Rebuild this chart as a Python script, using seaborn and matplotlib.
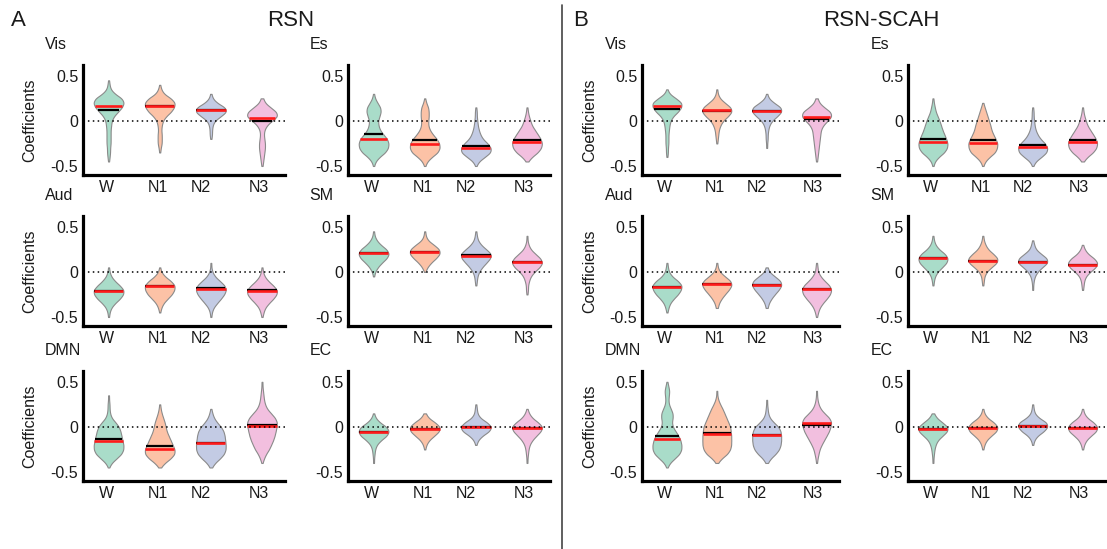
import numpy as np
import pandas as pd
import seaborn as sns
import matplotlib
matplotlib.use("Agg")
import matplotlib.pyplot as plt
from matplotlib.lines import Line2D

# ---------- data ----------
STAGES = ["W", "N1", "N2", "N3"]
NETWORKS = ["Vis", "Es", "Aud", "SM", "DMN", "EC"]

# coefficient levels (-0.5 ... 0.5) and, per stage, the violin width (px) at each level
LEVELS = [-0.5, -0.45, -0.4, -0.35, -0.3, -0.25, -0.2, -0.15, -0.1, -0.05, 0.0,
          0.05, 0.1, 0.15, 0.2, 0.25, 0.3, 0.35, 0.4, 0.45, 0.5]

RSN_VIS = [[0, 1, 2, 3, 3, 4, 4, 4, 4, 5, 6, 10, 18, 26, 30, 26, 12, 4, 2, 1, 0],
           [0, 0, 0, 1, 2, 4, 4, 4, 3, 4, 6, 12, 22, 28, 30, 22, 8, 3, 1, 0, 0],
           [0, 0, 0, 0, 0, 0, 1, 2, 2, 3, 6, 16, 26, 24, 10, 3, 1, 0, 0, 0, 0],
           [1, 2, 3, 4, 5, 5, 4, 3, 4, 8, 16, 26, 24, 14, 5, 2, 0, 0, 0, 0, 0]]
RSN_ES = [[1, 4, 12, 24, 30, 31, 28, 20, 13, 10, 9, 12, 15, 14, 8, 3, 1, 0, 0, 0, 0],
          [1, 5, 14, 26, 30, 29, 24, 16, 10, 7, 7, 8, 8, 7, 3, 1, 0, 0, 0, 0, 0],
          [1, 6, 18, 30, 31, 24, 14, 9, 6, 4, 3, 2, 2, 1, 0, 0, 0, 0, 0, 0, 0],
          [0, 2, 10, 22, 29, 31, 28, 22, 16, 10, 7, 4, 2, 1, 0, 0, 0, 0, 0, 0, 0]]
RSN_AUD = [[1, 2, 5, 12, 22, 29, 30, 22, 12, 5, 2, 1, 0, 0, 0, 0, 0, 0, 0, 0, 0],
           [0, 1, 3, 7, 15, 24, 29, 30, 22, 10, 3, 1, 0, 0, 0, 0, 0, 0, 0, 0, 0],
           [1, 2, 5, 12, 20, 27, 31, 28, 18, 8, 3, 1, 1, 0, 0, 0, 0, 0, 0, 0, 0],
           [1, 3, 6, 13, 22, 29, 30, 22, 12, 5, 2, 1, 0, 0, 0, 0, 0, 0, 0, 0, 0]]
RSN_SM = [[0, 0, 0, 0, 0, 0, 0, 0, 0, 1, 3, 8, 16, 26, 31, 26, 14, 6, 2, 1, 0],
          [0, 0, 0, 0, 0, 0, 0, 0, 0, 0, 1, 5, 12, 22, 30, 29, 18, 6, 2, 1, 0],
          [0, 0, 0, 0, 0, 0, 0, 1, 2, 3, 6, 12, 20, 28, 30, 20, 10, 4, 2, 1, 0],
          [0, 0, 0, 0, 0, 1, 2, 2, 4, 7, 14, 24, 30, 26, 16, 7, 3, 1, 1, 0, 0]]
RSN_DMN = [[0, 1, 6, 16, 26, 30, 30, 28, 26, 24, 21, 14, 6, 3, 2, 2, 1, 1, 0, 0, 0],
           [0, 2, 10, 22, 30, 30, 26, 22, 18, 14, 12, 10, 7, 4, 2, 1, 0, 0, 0, 0, 0],
           [0, 2, 8, 18, 26, 29, 29, 28, 27, 25, 20, 12, 6, 3, 1, 0, 0, 0, 0, 0, 0],
           [0, 0, 1, 4, 8, 14, 18, 22, 25, 27, 29, 30, 26, 18, 10, 6, 4, 3, 2, 1, 1]]
RSN_EC = [[0, 0, 1, 1, 2, 3, 6, 14, 26, 31, 26, 12, 4, 1, 0, 0, 0, 0, 0, 0, 0],
          [0, 0, 0, 0, 0, 1, 3, 8, 18, 28, 30, 20, 7, 2, 0, 0, 0, 0, 0, 0, 0],
          [0, 0, 0, 0, 0, 0, 1, 4, 12, 26, 31, 22, 8, 3, 2, 1, 0, 0, 0, 0, 0],
          [0, 0, 1, 1, 2, 3, 5, 10, 18, 27, 31, 22, 10, 4, 1, 0, 0, 0, 0, 0, 0]]

SCAH_VIS = [[0, 0, 1, 2, 2, 3, 3, 3, 4, 5, 7, 12, 22, 29, 30, 18, 5, 1, 0, 0, 0],
            [0, 0, 0, 0, 0, 1, 2, 3, 4, 7, 12, 22, 30, 28, 16, 6, 2, 1, 0, 0, 0],
            [0, 0, 0, 0, 1, 1, 2, 2, 3, 5, 10, 20, 29, 28, 14, 4, 1, 0, 0, 0, 0],
            [0, 1, 2, 3, 4, 5, 6, 7, 8, 12, 20, 28, 26, 14, 5, 2, 0, 0, 0, 0, 0]]
SCAH_ES = [[1, 4, 12, 24, 30, 31, 28, 24, 20, 17, 14, 10, 6, 4, 2, 1, 0, 0, 0, 0, 0],
           [1, 5, 14, 26, 30, 31, 27, 22, 18, 16, 13, 10, 7, 4, 1, 0, 0, 0, 0, 0, 0],
           [1, 6, 18, 29, 31, 26, 16, 10, 6, 4, 3, 2, 2, 1, 0, 0, 0, 0, 0, 0, 0],
           [0, 2, 10, 22, 29, 31, 28, 22, 16, 10, 7, 4, 2, 1, 0, 0, 0, 0, 0, 0, 0]]
SCAH_AUD = [[0, 1, 3, 6, 13, 22, 28, 30, 22, 10, 4, 2, 1, 0, 0, 0, 0, 0, 0, 0, 0],
            [0, 0, 2, 4, 9, 16, 24, 30, 28, 16, 6, 2, 1, 0, 0, 0, 0, 0, 0, 0, 0],
            [0, 0, 2, 4, 9, 16, 24, 30, 28, 16, 5, 2, 0, 0, 0, 0, 0, 0, 0, 0, 0],
            [1, 3, 6, 12, 20, 27, 30, 26, 16, 8, 3, 2, 1, 0, 0, 0, 0, 0, 0, 0, 0]]
SCAH_SM = [[0, 0, 0, 0, 0, 0, 0, 1, 2, 4, 9, 18, 27, 30, 24, 12, 5, 2, 1, 0, 0],
           [0, 0, 0, 0, 0, 0, 0, 1, 2, 3, 7, 16, 27, 29, 20, 10, 5, 2, 1, 0, 0],
           [0, 0, 0, 0, 0, 0, 1, 1, 2, 4, 9, 18, 29, 28, 16, 6, 3, 1, 0, 0, 0],
           [0, 0, 0, 0, 0, 0, 1, 2, 3, 6, 14, 25, 29, 22, 10, 4, 1, 0, 0, 0, 0]]
SCAH_DMN = [[0, 1, 6, 16, 26, 30, 30, 28, 24, 18, 12, 10, 12, 12, 8, 4, 3, 4, 5, 3, 1],
            [0, 0, 2, 10, 22, 28, 30, 30, 30, 29, 28, 24, 20, 16, 12, 7, 3, 1, 1, 0, 0],
            [0, 0, 2, 8, 18, 25, 28, 29, 29, 28, 24, 14, 6, 3, 2, 1, 1, 0, 0, 0, 0],
            [0, 0, 1, 2, 4, 6, 10, 15, 20, 25, 28, 30, 26, 16, 8, 4, 2, 1, 1, 0, 0]]
SCAH_EC = [[0, 0, 1, 1, 2, 3, 5, 9, 18, 28, 29, 18, 7, 2, 0, 0, 0, 0, 0, 0, 0],
           [0, 0, 0, 0, 0, 1, 3, 7, 16, 27, 30, 22, 9, 3, 1, 0, 0, 0, 0, 0, 0],
           [0, 0, 0, 0, 0, 0, 1, 3, 9, 22, 30, 28, 12, 4, 2, 1, 0, 0, 0, 0, 0],
           [0, 0, 0, 0, 0, 1, 3, 7, 16, 27, 30, 22, 9, 3, 1, 0, 0, 0, 0, 0, 0]]

# red line = median, black line = mean (rows follow NETWORKS)
RSN_MEDIAN = [[0.16, 0.17, 0.12, 0.035], [-0.20, -0.26, -0.30, -0.23],
              [-0.21, -0.16, -0.19, -0.21], [0.21, 0.225, 0.175, 0.107],
              [-0.16, -0.245, -0.18, 0.01], [-0.057, -0.02, -0.003, -0.01]]
RSN_MEAN = [[0.12, 0.16, 0.12, 0.0], [-0.14, -0.21, -0.28, -0.21],
            [-0.21, -0.155, -0.18, -0.20], [0.21, 0.225, 0.19, 0.107],
            [-0.13, -0.21, -0.175, 0.02], [-0.057, -0.02, -0.003, -0.01]]
SCAH_MEDIAN = [[0.16, 0.12, 0.115, 0.04], [-0.23, -0.24, -0.29, -0.23],
               [-0.165, -0.135, -0.145, -0.19], [0.15, 0.125, 0.11, 0.08],
               [-0.13, -0.08, -0.095, 0.04], [-0.025, -0.01, 0.01, -0.01]]
SCAH_MEAN = [[0.13, 0.11, 0.115, 0.02], [-0.20, -0.21, -0.27, -0.215],
             [-0.165, -0.13, -0.14, -0.19], [0.15, 0.125, 0.11, 0.08],
             [-0.105, -0.07, -0.09, 0.02], [-0.025, -0.01, 0.01, -0.01]]

# ---------- style ----------
FILLS = ["#a9dcc9", "#fcc2a6", "#c3cbe4", "#f2bfdf"]
EDGE = "#8a8a8a"
TEXT = "#1a1a1a"
TICK_POS = [-0.04, 0.97, 1.8, 2.93]
BW = 0.03

sns.set_style("white")
plt.rcParams["font.family"] = ["Liberation Sans", "DejaVu Sans"]
plt.rcParams.update({"text.color": TEXT, "axes.labelcolor": TEXT,
                     "xtick.color": TEXT, "ytick.color": TEXT})

W, H = 1107, 549
fig = plt.figure(figsize=(W / 100, H / 100), dpi=100)

COL_LEFT = [83, 348, 642, 908]
COL_WIDTH = [202, 202, 197, 197]
ROW_TOP = [65, 216, 371]
AX_H = 110


def fixed_bw(kde):
    # same absolute bandwidth for every violin
    return BW / np.std(kde.dataset, ddof=1)


def half_width(body, y):
    verts = body.get_paths()[0].vertices
    center = (verts[:, 0].min() + verts[:, 0].max()) / 2
    right = verts[verts[:, 0] > center + 1e-9]
    order = np.argsort(right[:, 1])
    return center, np.interp(y, right[order, 1], right[order, 0]) - center


def draw_panel(ax, widths, medians, means, title, first_col):
    df = pd.DataFrame({
        "stage": np.repeat(STAGES, [sum(w) for w in widths]),
        "coef": np.concatenate([np.repeat(LEVELS, w) for w in widths]),
    })
    sns.violinplot(data=df, x="stage", y="coef", hue="stage", order=STAGES,
                   hue_order=STAGES, palette=FILLS, saturation=1, inner=None,
                   cut=0, density_norm="width", width=0.58, bw_method=fixed_bw,
                   linewidth=0.8, linecolor=EDGE, legend=False, ax=ax)
    bodies = list(ax.collections)
    for body, mu, med in zip(bodies, means, medians):
        c, hw = half_width(body, mu)
        ax.hlines(mu, c - hw, c + hw, color="black", lw=1.6, zorder=3)
        c, hw = half_width(body, med)
        ax.hlines(med, c - hw, c + hw, color="#ff1a1a", lw=1.9, zorder=3.5)
    ax.axhline(0, color="black", lw=1.1, ls=(0, (1, 2.2)), zorder=4)

    ax.set_xlim(-0.5, 3.45)
    ax.set_ylim(-0.6, 0.62)
    ax.set_xticks(TICK_POS)
    ax.set_xticklabels(STAGES)
    ax.set_yticks([-0.5, 0, 0.5])
    ax.set_yticklabels(["-0.5", "0", "0.5"])
    ax.tick_params(length=0, labelsize=11.5, pad=3.5)
    ax.set_xlabel("")
    sns.despine(ax=ax)
    for s in ["left", "bottom"]:
        ax.spines[s].set_linewidth(2.3)
        ax.spines[s].set_color("black")
    if first_col:
        ax.set_ylabel("Coefficients", fontsize=11.5)
        ax.yaxis.set_label_coords(-0.225, 0.5)
    else:
        ax.set_ylabel("")
    ax.text(-0.19, 1.19, title, transform=ax.transAxes, ha="left",
            va="center", fontsize=11.5)


halves = [
    ([RSN_VIS, RSN_ES, RSN_AUD, RSN_SM, RSN_DMN, RSN_EC], RSN_MEDIAN, RSN_MEAN),
    ([SCAH_VIS, SCAH_ES, SCAH_AUD, SCAH_SM, SCAH_DMN, SCAH_EC], SCAH_MEDIAN, SCAH_MEAN),
]

for h, (panels, medians, means) in enumerate(halves):
    for k, name in enumerate(NETWORKS):
        row, col = divmod(k, 2)
        ci = 2 * h + col
        rect = [COL_LEFT[ci] / W, 1 - (ROW_TOP[row] + AX_H) / H,
                COL_WIDTH[ci] / W, AX_H / H]
        ax = fig.add_axes(rect)
        draw_panel(ax, panels[k], medians[k], means[k], name, col == 0)

# panel letters and headers
fig.text(18 / W, 1 - 20 / H, "A", ha="center", va="center", fontsize=16)
fig.text(291 / W, 1 - 20 / H, "RSN", ha="center", va="center", fontsize=16)
fig.text(581 / W, 1 - 20 / H, "B", ha="center", va="center", fontsize=16)
fig.text(881 / W, 1 - 20 / H, "RSN-SCAH", ha="center", va="center", fontsize=16)
fig.add_artist(Line2D([562 / W, 562 / W], [0, 1 - 5 / H], transform=fig.transFigure,
                      color="#444444", lw=1.2))

fig.savefig("out.png", dpi=100)
